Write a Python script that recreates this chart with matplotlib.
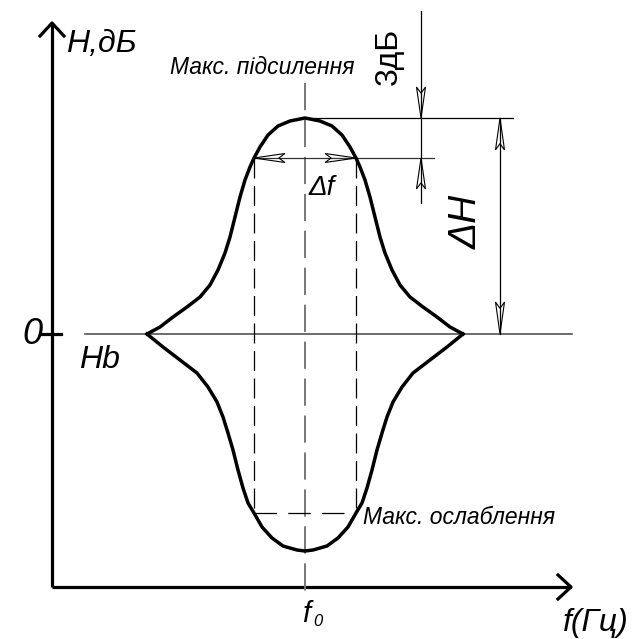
import matplotlib.pyplot as plt
from matplotlib.patches import Polygon
import numpy as np

# frequency offset from f0 and gain relative to H0 (1 unit = 1 px of the drawing)
gain_f = [-158, -145, -132, -118, -105, -95, -87, -80, -75, -70, -65, -60, -55, -51,
          -45, -37, -27, -15, 0,
          15, 27, 37, 45, 51, 55, 60, 65, 70, 75, 80, 87, 95, 105, 118, 132, 145, 158]
gain_h = [0, 7, 17, 27, 37, 49, 64, 81, 97, 117, 137, 154, 167, 176,
          187, 199, 208, 213, 216,
          213, 208, 199, 187, 176, 167, 154, 137, 117, 97, 81, 64, 49, 37, 27, 17, 7, 0]
cut_f = [-158, -142, -125, -108, -97, -88, -82, -77, -72, -67, -62, -57, -51,
         -43, -33, -22, -8, 0,
         8, 22, 33, 43, 51, 57, 62, 67, 72, 77, 82, 88, 97, 108, 125, 142, 158]
cut_h = [0, -13, -26, -39, -53, -68, -83, -99, -116, -136, -154, -169, -179,
         -193, -204, -212, -216, -217,
         -216, -212, -204, -193, -179, -169, -154, -136, -116, -99, -83, -68, -53, -39, -26, -13, 0]

peak_h = 216        # max gain
band_h = 176        # level 3 dB below the peak
trough_h = -179     # level marked on the cut curve
band_f = 51         # half of the bandwidth

FONT = ['Liberation Sans', 'DejaVu Sans']


def open_head(ax, tip, direction, length=31, half=4.5):
    d = np.asarray(direction, float)
    d /= np.linalg.norm(d)
    n = np.array([-d[1], d[0]])
    t = np.asarray(tip, float)
    pts = [t, t - d * length + n * half, t - d * length * 0.8, t - d * length - n * half]
    ax.add_patch(Polygon(pts, closed=True, fill=False, edgecolor='black', lw=0.8, zorder=4))


fig = plt.figure(figsize=(6.35, 6.39), dpi=100)
ax = fig.add_axes([0, 0, 1, 1])
ax.set_xlim(-305, 330)
ax.set_ylim(-305, 334)
ax.axis('off')

# axes with open chevron arrows
ax_x, ax_y = -253, -253
ax.plot([ax_x, ax_x], [ax_y, 311], color='black', lw=2.3, solid_capstyle='butt')
ax.plot([ax_x - 12, ax_x, ax_x + 12], [298, 311, 298], color='black', lw=2.3)
ax.plot([ax_x, 266], [ax_y, ax_y], color='black', lw=2.3, solid_capstyle='butt')
ax.plot([253, 266, 253], [ax_y + 12, ax_y, ax_y - 12], color='black', lw=2.3)
ax.plot([ax_x - 11, ax_x + 9], [0, 0], color='black', lw=2.3)

# H0 baseline
ax.plot([-220, 267], [0, 0], color='#444444', lw=1.1)

# f0 centre line
ax.plot([0, 0], [251, -266], color='#777777', lw=1.4, dashes=(14, 5))

# bandwidth box
ax.plot([-band_f, -band_f], [band_h, trough_h], color='black', lw=0.9, dashes=(16, 6))
ax.plot([band_f, band_f], [band_h, trough_h], color='black', lw=0.9, dashes=(16, 6))
ax.plot([-band_f, band_f], [trough_h, trough_h], color='black', lw=0.9, dashes=(18, 9))

# response curves
ax.plot(gain_f, gain_h, color='black', lw=2.5, solid_joinstyle='round', zorder=5)
ax.plot(cut_f, cut_h, color='black', lw=2.5, solid_joinstyle='round', zorder=5)

# extension lines
ax.plot([0, 208], [peak_h, peak_h], color='black', lw=0.9)
ax.plot([-band_f, 129], [band_h, band_h], color='#333333', lw=0.9)

# bandwidth arrows
open_head(ax, (-band_f, band_h), (-1, 0))
open_head(ax, (band_f, band_h), (1, 0))

# 3 dB dimension
dim3_x = 116
ax.plot([dim3_x, dim3_x], [323, 131], color='black', lw=0.9)
open_head(ax, (dim3_x, peak_h), (0, -1))
open_head(ax, (dim3_x, band_h), (0, 1))

# ΔH dimension
dimH_x = 195
ax.plot([dimH_x, dimH_x], [peak_h, 0], color='black', lw=0.9)
open_head(ax, (dimH_x, peak_h), (0, 1), length=32)
open_head(ax, (dimH_x, 0), (0, -1), length=32)

# labels
ital = dict(family=FONT, style='italic', color='black')
ax.text(-239, 290, 'H,дБ', fontsize=23, va='center', ha='left', **ital)
ax.text(-273, 0, '0', fontsize=26, va='center', ha='center', **ital)
ax.text(-226, -26, 'Hb', fontsize=23, va='center', ha='left', **ital)
ax.text(-135, 267, 'Макс. підсилення', fontsize=16.5, va='center', ha='left', **ital)
ax.text(84, 278, '3дБ', fontsize=23, va='center', ha='center', rotation=90,
        family=FONT, color='black')
ax.text(162, 112, 'ΔH', fontsize=28, va='center', ha='center', rotation=90, **ital)
ax.text(4, 146, 'Δf', fontsize=20, va='center', ha='left', **ital)
ax.text(58, -183, 'Макс. ослаблення', fontsize=16.5, va='center', ha='left', **ital)
ax.text(-3, -280, 'f', fontsize=21, va='center', ha='left', **ital)
ax.text(8, -287, '0', fontsize=12, va='center', ha='left', **ital)
ax.text(258, -289, 'f(Гц)', fontsize=23, va='center', ha='left', **ital)

fig.savefig('out.png', dpi=100, facecolor='white')
